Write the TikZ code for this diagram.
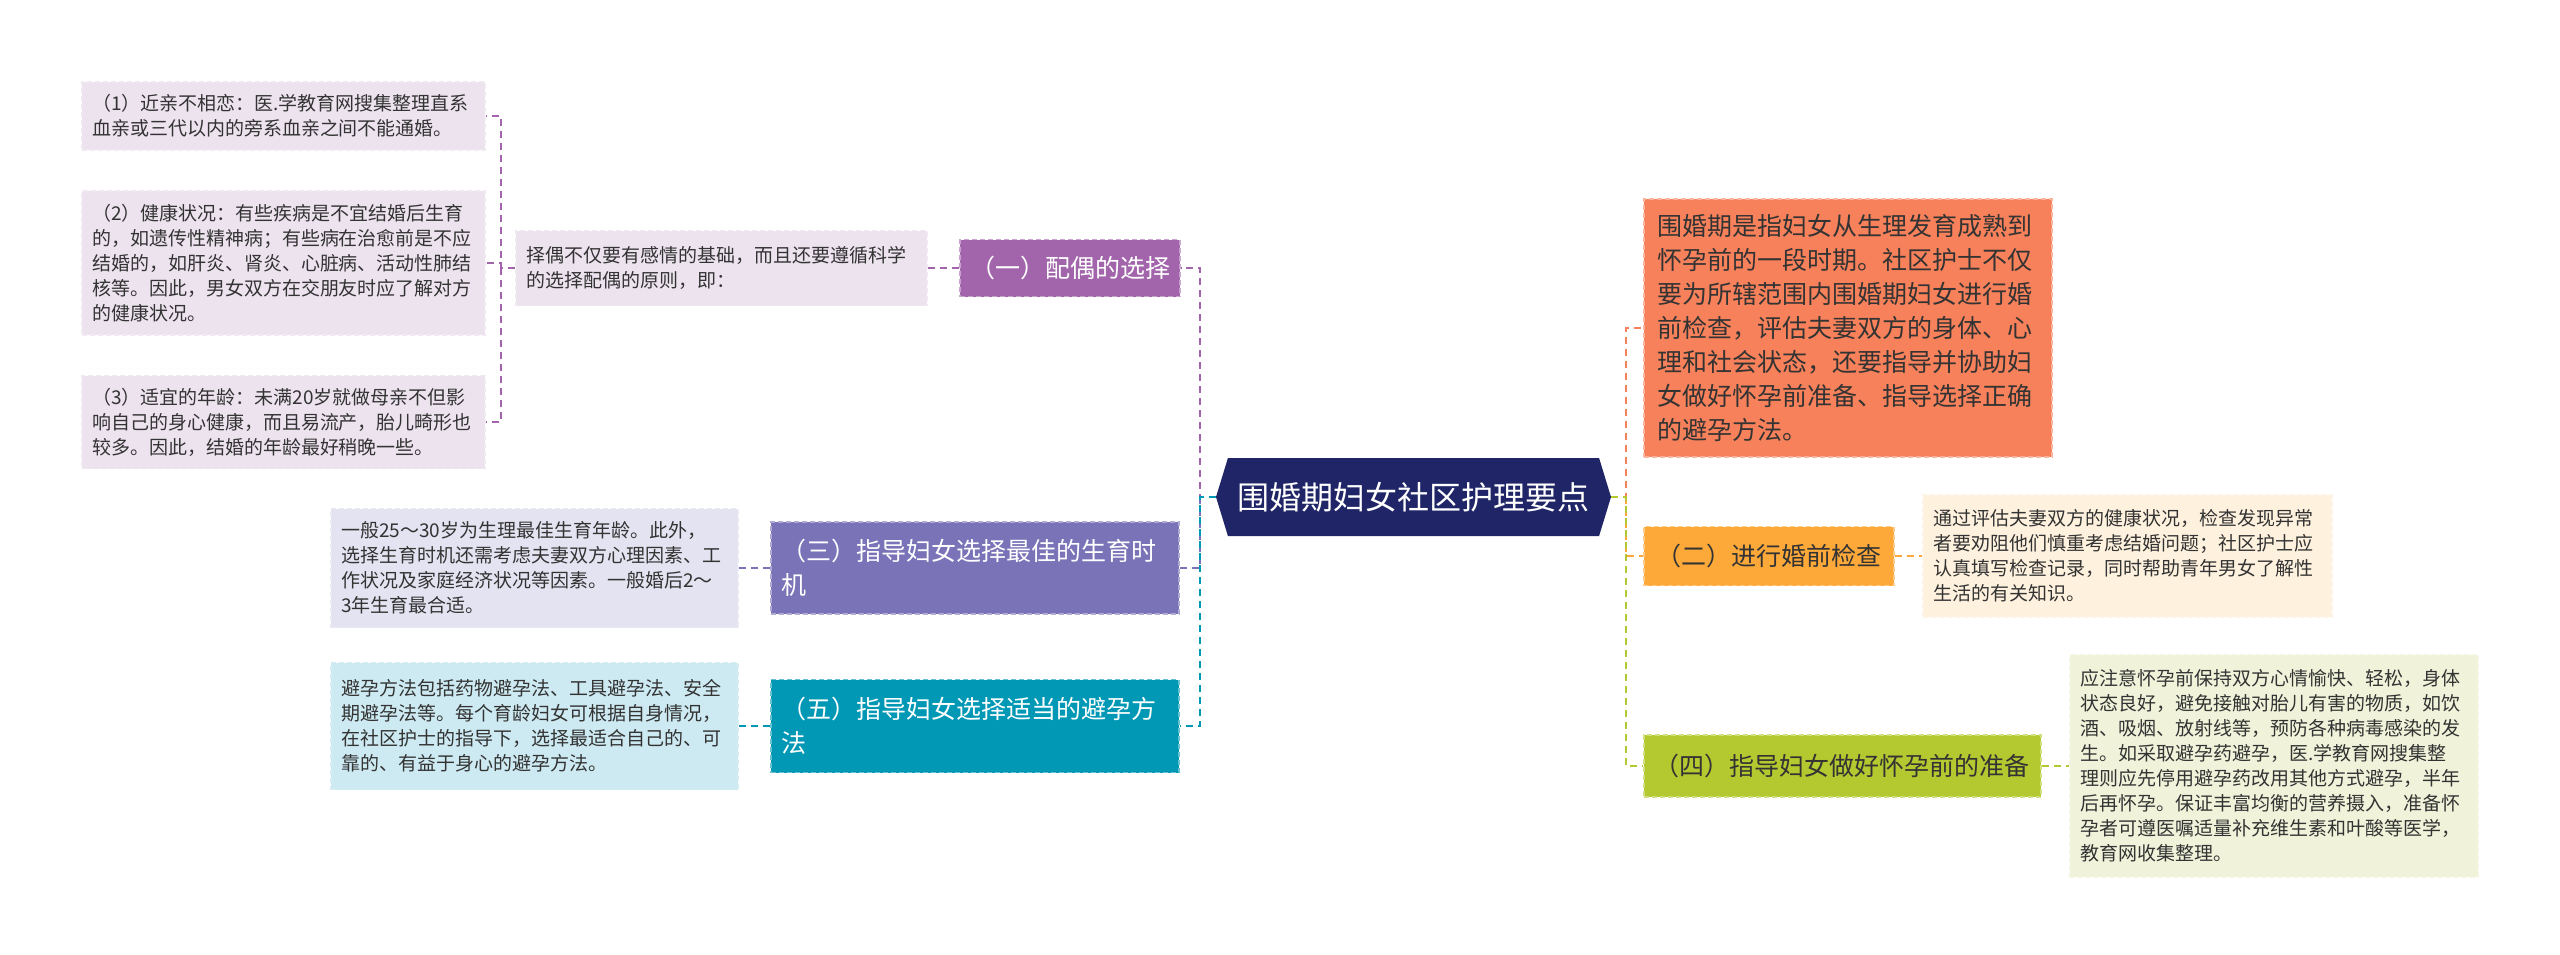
\documentclass[tikz,border=0pt]{standalone}
\usepackage{fontspec}
\newfontfamily\cjkfont{Noto Sans CJK SC}
\usepackage{tikz}
\usetikzlibrary{shapes.symbols}
\usepackage{xcolor}
\definecolor{hubnavy}{HTML}{1F2566}
\definecolor{pairpurple}{HTML}{A265AB}
\definecolor{pairlight}{HTML}{EDE3EF}
\definecolor{timeslate}{HTML}{7A73B8}
\definecolor{timelight}{HTML}{E4E3F1}
\definecolor{contrteal}{HTML}{0098B5}
\definecolor{contrlight}{HTML}{CDE9F1}
\definecolor{periodcoral}{HTML}{F7815A}
\definecolor{checkamber}{HTML}{FDA93A}
\definecolor{checklight}{HTML}{FEF1DE}
\definecolor{prepgreen}{HTML}{B4C82F}
\definecolor{preplight}{HTML}{F0F3DA}
\definecolor{inktext}{HTML}{333333}

\begin{document}
\begin{tikzpicture}[x=1pt,y=-1pt,font=\cjkfont,line cap=butt,
  note/.style={rectangle,align=left,inner xsep=10pt,inner ysep=0pt,text=inktext,
    fill=#1,draw=#1!80!white,dash pattern=on 5pt off 3pt,line width=1.2pt,
    font={\cjkfont\fontsize{19}{25}\selectfont}},
  head/.style={rectangle,align=left,inner xsep=10pt,inner ysep=0pt,text=white,
    fill=#1,draw=#1!60!white,dash pattern=on 5pt off 3pt,line width=1.2pt,
    font={\cjkfont\fontsize{25}{34}\selectfont}},
  link/.style={draw=#1,dash pattern=on 7pt off 5pt,line width=2.2pt}]
\fill[white] (0,0) rectangle (2560,955);
\node[note=pairlight,text width=383,minimum height=68] (box1) at (283.5,116) {（1）近亲不相恋：医.学教育网搜集整理直系\\血亲或三代以内的旁系血亲之间不能通婚。};
\node[note=pairlight,text width=383,minimum height=144] (box2) at (283.5,263) {（2）健康状况：有些疾病是不宜结婚后生育\\的，如遗传性精神病；有些病在治愈前是不应\\结婚的，如肝炎、肾炎、心脏病、活动性肺结\\核等。因此，男女双方在交朋友时应了解对方\\的健康状况。};
\node[note=pairlight,text width=383,minimum height=93] (box3) at (283.5,422) {（3）适宜的年龄：未满20岁就做母亲不但影\\响自己的身心健康，而且易流产，胎儿畸形也\\较多。因此，结婚的年龄最好稍晚一些。};
\node[note=pairlight,text width=391,minimum height=75] (mid) at (721.5,268) {择偶不仅要有感情的基础，而且还要遵循科学\\的选择配偶的原则，即：};
\node[head=pairpurple,text width=200,minimum height=57] (one) at (1070,268) {（一）配偶的选择};
\node[note=timelight,text width=387,minimum height=119] (threetext) at (534.5,568) {一般25～30岁为生理最佳生育年龄。此外，\\选择生育时机还需考虑夫妻双方心理因素、工\\作状况及家庭经济状况等因素。一般婚后2～\\3年生育最合适。};
\node[head=timeslate,text width=388,minimum height=92] (three) at (975,568) {（三）指导妇女选择最佳的生育时\\机};
\node[note=contrlight,text width=387,minimum height=127] (fivetext) at (534.5,726) {避孕方法包括药物避孕法、工具避孕法、安全\\期避孕法等。每个育龄妇女可根据自身情况，\\在社区护士的指导下，选择最适合自己的、可\\靠的、有益于身心的避孕方法。};
\node[head=contrteal,text width=388,minimum height=93] (five) at (975,726) {（五）指导妇女选择适当的避孕方\\法};
\node[signal,signal to=west and east,signal pointer angle=146,fill=hubnavy,text=white,
  minimum width=395,minimum height=78,inner sep=0pt,font={\cjkfont\fontsize{32}{38}\selectfont}] (hub) at (1413.5,497) {围婚期妇女社区护理要点};
\node[head=periodcoral,text=inktext,text width=382,minimum height=258,inner xsep=13pt] (period) at (1848,328) {围婚期是指妇女从生理发育成熟到\\怀孕前的一段时期。社区护士不仅\\要为所辖范围内围婚期妇女进行婚\\前检查，评估夫妻双方的身体、心\\理和社会状态，还要指导并协助妇\\女做好怀孕前准备、指导选择正确\\的避孕方法。};
\node[head=checkamber,text=inktext,text width=226,minimum height=59,inner xsep=12pt] (two) at (1769,556) {（二）进行婚前检查};
\node[note=checklight,text width=389,minimum height=122] (twotext) at (2127.5,556) {通过评估夫妻双方的健康状况，检查发现异常\\者要劝阻他们慎重考虑结婚问题；社区护士应\\认真填写检查记录，同时帮助青年男女了解性\\生活的有关知识。};
\node[head=prepgreen,text=inktext,text width=377,minimum height=62] (four) at (1842.5,766) {（四）指导妇女做好怀孕前的准备};
\node[note=preplight,text width=388,minimum height=222] (fourtext) at (2274,766) {应注意怀孕前保持双方心情愉快、轻松，身体\\状态良好，避免接触对胎儿有害的物质，如饮\\酒、吸烟、放射线等，预防各种病毒感染的发\\生。如采取避孕药避孕，医.学教育网搜集整\\理则应先停用避孕药改用其他方式避孕，半年\\后再怀孕。保证丰富均衡的营养摄入，准备怀\\孕者可遵医嘱适量补充维生素和叶酸等医学，\\教育网收集整理。};
\coordinate (pairspine) at (501,268);
\coordinate (lspine) at (1200,497);
\coordinate (rspine) at (1626,497);
\draw[link=pairpurple] (mid.west) -- (pairspine) |- (box1.east);
\draw[link=pairpurple] (pairspine) |- (box2.east);
\draw[link=pairpurple] (pairspine) |- (box3.east);
\draw[link=pairpurple] (one.west) -- (mid.east);
\draw[link=pairpurple] (hub.west) -- (lspine) |- (one.east);
\draw[link=timeslate] (lspine) |- (three.east);
\draw[link=contrteal] (hub.west) -- (lspine) |- (five.east);
\draw[link=timeslate] (three.west) -- (threetext.east);
\draw[link=contrteal] (five.west) -- (fivetext.east);
\draw[link=periodcoral] (hub.east) -- (rspine) |- (period.west);
\draw[link=checkamber] (rspine) |- (two.west);
\draw[link=prepgreen] (hub.east) -- (rspine) |- (four.west);
\draw[link=checkamber] (two.east) -- (twotext.west);
\draw[link=prepgreen] (four.east) -- (fourtext.west);
\end{tikzpicture}
\end{document}
